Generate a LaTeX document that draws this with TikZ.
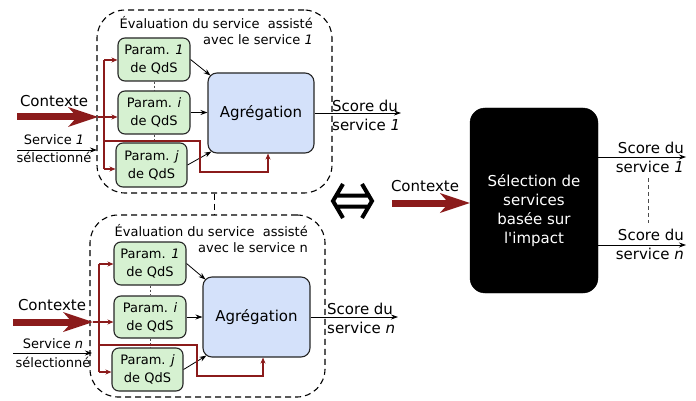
\documentclass[tikz,border=0pt]{standalone}
\usepackage{fontspec}
\newfontfamily\dv{DejaVu Sans}
\usetikzlibrary{arrows.meta}
\definecolor{ctxred}{RGB}{139,27,27}
\definecolor{paramgreen}{RGB}{214,241,209}
\definecolor{aggblue}{RGB}{212,225,250}
\begin{document}
\begin{tikzpicture}[x=1pt,y=-1pt,
  txt/.style={font=\dv\fontsize{13}{16}\selectfont, inner sep=0pt, align=center},
  big/.style={font=\dv\fontsize{15}{19}\selectfont, inner sep=0pt, align=center},
  param/.style={draw=black!85, line width=1.1pt, fill=paramgreen, rounded corners=7pt,
    minimum width=72pt, minimum height=43pt, inner sep=0pt, align=center,
    font=\dv\fontsize{13}{18}\selectfont},
  agg/.style={draw=black!85, line width=1.1pt, fill=aggblue, rounded corners=9pt,
    minimum width=106pt, minimum height=80pt, inner sep=0pt, font=\dv\fontsize{15}{19}\selectfont},
  evalbox/.style={draw, dash pattern=on 6pt off 4pt, line width=1.1pt, rounded corners=28pt, inner sep=0pt},
  evallink/.style={draw, dash pattern=on 6pt off 4pt, line width=1.1pt},
  ctxarrow/.style={draw=ctxred, line width=7pt,
    -{Stealth[length=30pt,width=20pt,inset=9pt,line width=0pt,fill=ctxred]}},
  feed/.style={draw=ctxred, line width=1.1pt, -{Stealth[length=6pt,width=5pt]}},
  feedline/.style={draw=ctxred, line width=1.1pt},
  flow/.style={draw=black, line width=0.8pt, -{Stealth[length=7pt,width=5pt]}},
  link/.style={draw=black!70, dash pattern=on 2pt off 2pt, line width=0.6pt},
  scorelink/.style={draw=black!70, dash pattern=on 4pt off 3pt, line width=0.7pt},
]
\useasboundingbox (0,0) rectangle (696,401);

% ---------------- evaluation of service 1 ----------------
\node[evalbox, minimum width=235pt, minimum height=183pt] (evtop) at (214.5,101.5) {};
\node[txt, align=right, anchor=east] (evtoptitle) at (313,31) {Évaluation du service\ \ assisté\\avec le service \textit{1}};

\node[param] (t1) at (154,59.5) {Param. \textit{1}\\de QdS};
\node[param] (ti) at (154,112.5) {Param. \textit{i}\\de QdS};
\node[param, minimum width=71pt, minimum height=44pt] (tj) at (151.5,165) {Param. \textit{j}\\de QdS};
\node[agg] (ta) at (261,113) {Agrégation};

\draw[link] (t1.south) -- (ti.north);
\draw[link] (ti.south) -- (ti.south |- tj.north);

\draw[flow] (t1.east) -- ([xshift=3pt,yshift=-3pt]ta.north west);
\draw[flow] (ti.east) -- (ti.east -| ta.west);
\draw[flow] (tj.east) -- ([xshift=4pt,yshift=2pt]ta.south west);

\coordinate (tout) at (401,113);
\draw[flow] (ta.east) -- (tout);
\node[big, align=left, anchor=west] (tscore) at (332,115.5) {Score du\\service \textit{1}};

\node[big] (tctx) at (54,101) {Contexte};
\coordinate (tctxs) at (17,117);
\coordinate (tctxe) at (98,117);
\draw[ctxarrow] (tctxs) -- (tctxe);
\coordinate (ttop) at (104,60);
\coordinate (tbot) at (104,169);
\coordinate (tfb) at (104,141);
\draw[feedline] (ttop) -- (tbot);
\draw[feed] (ttop) -- (ttop -| t1.west);
\draw[feed] (tctxe) -- (tctxe -| ti.west);
\draw[feed] (tbot) -- (tbot -| tj.west);
\draw[feed] (tfb) -- ++(96,0) -- ++(0,31) -| ([xshift=7pt]ta.south);

\node[txt] (tsvc) at (54,140) {Service \textit{1}};
\node[txt] (tsel) at (54,157.5) {sélectionné};
\coordinate (tsvs) at (17,150);
\coordinate (tsve) at (97,150);
\draw[flow] (tsvs) -- (tsve);

% ---------------- evaluation of service n ----------------
\node[evalbox, minimum width=235pt, minimum height=182pt] (evbot) at (207.5,306) {};
\node[txt, align=right, anchor=east] (evbottitle) at (308,238.5) {Évaluation du service\ \ assisté\\avec le service n};
\draw[evallink] (evtop.south) -- (evtop.south |- evbot.north);

\node[param] (b1) at (150,263.5) {Param. \textit{1}\\de QdS};
\node[param, minimum height=42pt] (bi) at (150,317) {Param. \textit{i}\\de QdS};
\node[param, minimum width=71pt] (bj) at (147.5,369.5) {Param. \textit{j}\\de QdS};
\node[agg, minimum width=107pt] (ba) at (256.5,317) {Agrégation};

\draw[link] (b1.south) -- (bi.north);
\draw[link] (bi.south) -- (bi.south |- bj.north);

\draw[flow] (b1.east) -- ([xshift=3pt,yshift=-3pt]ba.north west);
\draw[flow] (bi.east) -- (bi.east -| ba.west);
\draw[flow] (bj.east) -- ([xshift=4pt,yshift=2pt]ba.south west);

\coordinate (bout) at (398,317);
\draw[flow] (ba.east) -- (bout);
\node[big, align=left, anchor=west] (bscore) at (327,318) {Score du\\service \textit{n}};

\node[big] (bctx) at (52,305) {Contexte};
\coordinate (bctxs) at (13,322);
\coordinate (bctxe) at (93,322);
\draw[ctxarrow] (bctxs) -- (bctxe);
\coordinate (btop) at (99,264);
\coordinate (bbot) at (99,372);
\coordinate (bfb) at (99,345);
\draw[feedline] (btop) -- (bbot);
\draw[feed] (btop) -- (btop -| b1.west);
\draw[feed] (bctxe) -- (bctxe -| bi.west);
\draw[feed] (bbot) -- (bbot -| bj.west);
\draw[feed] (bfb) -- ++(98,0) -- ++(0,31) -| ([xshift=6.5pt]ba.south);

\node[txt] (bsvc) at (53,344) {Service \textit{n}};
\node[txt] (bsel) at (53,362) {sélectionné};
\coordinate (bsvs) at (13,353);
\coordinate (bsve) at (92,353);
\draw[flow] (bsvs) -- (bsve);

% ---------------- equivalence sign ----------------
\draw[line width=4pt, miter limit=10]
  (343,184) -- (333,201) -- (343,218)
  (362,184) -- (372,201) -- (362,218)
  (337,195.5) -- (368,195.5)
  (337,206.5) -- (368,206.5);

% ---------------- impact-based selection ----------------
\node[draw=black, fill=black, rounded corners=15pt, minimum width=128pt, minimum height=185pt,
  inner sep=0pt] (sel) at (534,200.5) {};
\node[big, text=white] (seltxt) at (534,211) {Sélection de\\services\\basée sur\\l'impact};

\node[big] (rctx) at (425,186) {Contexte};
\coordinate (rctxs) at (392,203);
\draw[ctxarrow] (rctxs) -- (rctxs -| sel.west);

\coordinate (o1) at (686,157);
\coordinate (on) at (686,245);
\draw[flow] (o1 -| sel.east) -- (o1);
\draw[flow] (on -| sel.east) -- (on);
\node[big, align=right, anchor=east] (s1) at (684,157.5) {Score du\\service \textit{1}};
\node[big, align=right, anchor=east] (sn) at (684,244.5) {Score du\\service \textit{n}};
\coordinate (dt) at (648,178);
\coordinate (db) at (648,223);
\draw[scorelink] (dt) -- (db);
\end{tikzpicture}
\end{document}
